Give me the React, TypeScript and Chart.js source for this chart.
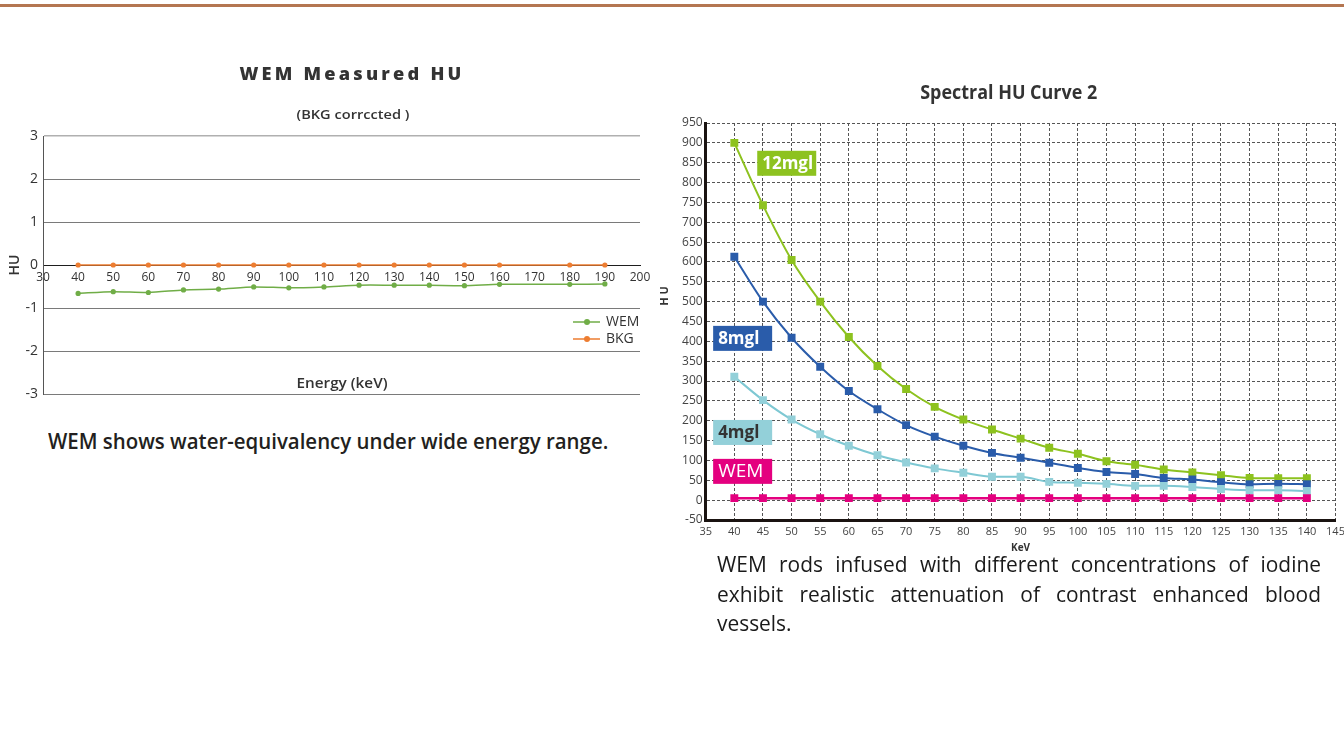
import React, { useEffect, useLayoutEffect, useRef, useState } from 'react';
import { Chart, registerables } from 'chart.js';

Chart.register(...registerables);

const SANS = "'Open Sans', 'Noto Sans', sans-serif";
const INK = '#333333';

// ---------- Left chart: WEM Measured HU (BKG corrected) ----------
const energyKeV = [40, 50, 60, 70, 80, 90, 100, 110, 120, 130, 140, 150, 160, 180, 190];
const wemHU = [-0.66, -0.62, -0.64, -0.58, -0.56, -0.51, -0.53, -0.51, -0.47, -0.47, -0.47, -0.48, -0.45, -0.45, -0.44];
const bkgHU = [0, 0, 0, 0, 0, 0, 0, 0, 0, 0, 0, 0, 0, 0, 0];
const leftSeriesNames = ['WEM', 'BKG'];
const leftTitle = 'WEM Measured HU';
const leftSubtitle = '(BKG corrccted )';
const leftXTitle = 'Energy (keV)';
const leftYTitle = 'HU';
const leftCaption = 'WEM shows water-equivalency under wide energy range.';

// ---------- Right chart: Spectral HU Curve 2 ----------
const spectralKeV = [40, 45, 50, 55, 60, 65, 70, 75, 80, 85, 90, 95, 100, 105, 110, 115, 120, 125, 130, 135, 140];
const iodine12HU = [900, 743, 605, 500, 411, 338, 280, 235, 203, 178, 155, 132, 117, 98, 89, 77, 70, 63, 56, 55, 55];
const iodine8HU = [613, 500, 409, 336, 275, 229, 189, 160, 137, 119, 107, 94, 81, 71, 66, 56, 52, 45, 40, 41, 40];
const iodine4HU = [311, 252, 203, 166, 137, 113, 95, 80, 69, 59, 59, 46, 44, 41, 36, 36, 33, 28, 25, 25, 23];
const wemSpectralHU = [5, 5, 5, 5, 5, 5, 5, 5, 5, 5, 5, 5, 5, 5, 5, 5, 5, 5, 5, 5, 5];
const rightSeriesNames = ['12mgl', '8mgl', '4mgl', 'WEM'];
const rightTitle = 'Spectral HU Curve 2';
const rightXTitle = 'KeV';
const rightYTitle = 'H U';
const rightCaptionLines = [
  'WEM rods infused with different concentrations of iodine',
  'exhibit realistic attenuation of contrast enhanced blood',
  'vessels.',
];

type TextItem = {
  text: string;
  x: number;
  y: number;
  font: string;
  color?: string;
  align?: CanvasTextAlign;
  rotate?: number;
  fitWidth?: number;
  spacing?: number;
};

function textPlugin(id: string, items: (chart: any) => TextItem[]) {
  return {
    id,
    afterDraw(chart: any) {
      const ctx = chart.ctx as CanvasRenderingContext2D;
      items(chart).forEach((it) => {
        ctx.save();
        ctx.font = it.font;
        ctx.fillStyle = it.color || INK;
        ctx.textBaseline = 'middle';
        ctx.textAlign = it.align || 'center';
        (ctx as any).letterSpacing = (it.spacing || 0) + 'px';
        ctx.translate(it.x, it.y);
        if (it.rotate) ctx.rotate(it.rotate);
        if (it.fitWidth) {
          const w = ctx.measureText(it.text).width;
          if (w > 0) ctx.scale(it.fitWidth / w, 1);
        }
        ctx.fillText(it.text, 0, 0);
        ctx.restore();
      });
    },
  };
}

const leftLegendPlugin = {
  id: 'leftLegend',
  afterDraw(chart: any) {
    const { ctx, chartArea } = chart;
    chart.data.datasets.forEach((ds: any, i: number) => {
      const y = chartArea.top + 186 + i * 17;
      const x0 = chartArea.right - 67;
      ctx.save();
      ctx.strokeStyle = ds.borderColor;
      ctx.fillStyle = ds.borderColor;
      ctx.lineWidth = 1.5;
      ctx.beginPath();
      ctx.moveTo(x0, y);
      ctx.lineTo(x0 + 27, y);
      ctx.stroke();
      ctx.beginPath();
      ctx.arc(x0 + 14, y, 3, 0, Math.PI * 2);
      ctx.fill();
      ctx.fillStyle = INK;
      ctx.font = `14px ${SANS}`;
      ctx.textAlign = 'left';
      ctx.textBaseline = 'middle';
      ctx.fillText(ds.label, x0 + 33, y);
      ctx.restore();
    });
  },
};

const curveTags = [
  { name: '12mgl', x: 44, y: 880, bg: '#8dc21f', fg: '#ffffff', weight: 700, size: 17 },
  { name: '8mgl', x: 36.3, y: 439, bg: '#2a5caa', fg: '#ffffff', weight: 700, size: 17 },
  { name: '4mgl', x: 36.3, y: 202, bg: '#93d0d9', fg: '#333333', weight: 700, size: 17 },
  { name: 'WEM', x: 36.3, y: 104, bg: '#e4007f', fg: '#ffffff', weight: 400, size: 19 },
];

const curveTagPlugin = {
  id: 'curveTags',
  afterDraw(chart: any) {
    const { ctx, scales } = chart;
    curveTags.forEach((t) => {
      const px = scales.x.getPixelForValue(t.x);
      const py = scales.y.getPixelForValue(t.y);
      ctx.save();
      ctx.fillStyle = t.bg;
      ctx.fillRect(px, py, 59, 25);
      ctx.fillStyle = t.fg;
      ctx.font = `${t.weight} ${t.size}px ${SANS}`;
      ctx.textAlign = 'left';
      ctx.textBaseline = 'middle';
      ctx.fillText(t.name, px + 5, py + 13);
      ctx.restore();
    });
  },
};

function LeftChart() {
  const ref = useRef<HTMLCanvasElement>(null);
  useEffect(() => {
    const canvas = ref.current;
    if (!canvas) return;
    const chart = new Chart(canvas, {
      type: 'line',
      data: {
        datasets: [
          {
            label: leftSeriesNames[0],
            data: energyKeV.map((x, i) => ({ x, y: wemHU[i] })),
            borderColor: '#70ad47',
            backgroundColor: '#70ad47',
            borderWidth: 1.5,
            pointRadius: 2.6,
            pointBorderWidth: 0,
            tension: 0.25,
          },
          {
            label: leftSeriesNames[1],
            data: energyKeV.map((x, i) => ({ x, y: bkgHU[i] })),
            borderColor: '#ed7d31',
            backgroundColor: '#ed7d31',
            borderWidth: 1.5,
            pointRadius: 2.6,
            pointBorderWidth: 0,
          },
        ],
      },
      options: {
        animation: false,
        responsive: true,
        maintainAspectRatio: false,
        layout: { padding: { top: 96, bottom: 26, left: 0, right: 20 } },
        plugins: { legend: { display: false }, tooltip: { enabled: false }, title: { display: false } },
        scales: {
          x: {
            type: 'linear',
            min: 30,
            max: 200,
            position: { y: 0 },
            ticks: { stepSize: 10, autoSkip: false, maxRotation: 0, color: INK, padding: 5, font: { family: SANS, size: 12 } },
            grid: { drawOnChartArea: false, drawTicks: false },
            border: { display: true, color: '#1e1e1e', width: 1 },
            afterFit: (s: any) => {
              s.height = 0;
              s.paddingLeft = 0;
              s.paddingRight = 0;
            },
          },
          y: {
            type: 'linear',
            min: -3,
            max: 3,
            ticks: { stepSize: 1, color: INK, padding: 5, font: { family: SANS, size: 14 } },
            grid: {
              drawTicks: false,
              color: (c: any) => (c.tick.value === 0 ? '#1e1e1e' : c.tick.value === 3 ? '#b0b0b0' : '#7a7a7a'),
              lineWidth: (c: any) => (c.tick.value === 3 ? 1.5 : 1),
            },
            border: { display: true, color: '#555555', width: 1 },
            afterFit: (s: any) => {
              s.width = 43;
              s.paddingTop = 0;
              s.paddingBottom = 0;
            },
          },
        },
      } as any,
      plugins: [
        leftLegendPlugin,
        textPlugin('leftTexts', (c) => {
          const a = c.chartArea;
          return [
            { text: leftTitle, x: a.left + 309, y: a.top - 61, font: `800 17px ${SANS}`, spacing: 3, fitWidth: 225 },
            { text: leftSubtitle, x: a.left + 310, y: a.top - 21, font: `600 13px ${SANS}`, fitWidth: 113 },
            { text: leftXTitle, x: a.left + 299, y: a.bottom - 10, font: `600 14px ${SANS}`, fitWidth: 91 },
            { text: leftYTitle, x: 15, y: (a.top + a.bottom) / 2, font: `600 14px ${SANS}`, rotate: -Math.PI / 2 },
          ];
        }),
      ],
    });
    return () => chart.destroy();
  }, []);
  return <canvas ref={ref} />;
}

function RightChart() {
  const ref = useRef<HTMLCanvasElement>(null);
  useEffect(() => {
    const canvas = ref.current;
    if (!canvas) return;
    const mk = (label: string, values: number[], color: string, line: string, width: number) => ({
      label,
      data: spectralKeV.map((x, i) => ({ x, y: values[i] })),
      borderColor: line,
      backgroundColor: color,
      pointBackgroundColor: color,
      borderWidth: width,
      pointRadius: 5.6,
      pointBorderWidth: 0,
      pointStyle: 'rect',
      cubicInterpolationMode: 'monotone',
    });
    const chart = new Chart(canvas, {
      type: 'line',
      data: {
        datasets: [
          mk(rightSeriesNames[3], wemSpectralHU, '#e4007f', '#e4007f', 2.5),
          mk(rightSeriesNames[2], iodine4HU, '#93d0d9', '#7ec8d3', 2),
          mk(rightSeriesNames[1], iodine8HU, '#2a5caa', '#2a5caa', 2),
          mk(rightSeriesNames[0], iodine12HU, '#8dc21f', '#8dc21f', 2),
        ] as any,
      },
      options: {
        animation: false,
        responsive: true,
        maintainAspectRatio: false,
        layout: { padding: { top: 53, bottom: 0, left: 0, right: 8.5 } },
        plugins: { legend: { display: false }, tooltip: { enabled: false }, title: { display: false } },
        scales: {
          x: {
            type: 'linear',
            min: 35,
            max: 145,
            ticks: { stepSize: 5, autoSkip: false, maxRotation: 0, color: '#444444', padding: 5, font: { family: SANS, size: 11 } },
            grid: { color: '#555555', lineWidth: 1, drawTicks: false },
            border: { display: true, color: '#1a1311', width: 3, dash: [3, 2] },
            afterFit: (s: any) => {
              s.height = 40;
              s.paddingLeft = 0;
              s.paddingRight = 0;
            },
          },
          y: {
            type: 'linear',
            min: -50,
            max: 950,
            ticks: { stepSize: 50, color: '#444444', padding: 3, font: { family: SANS, size: 12 } },
            grid: { color: '#555555', lineWidth: 1, drawTicks: false },
            border: { display: true, color: '#1a1311', width: 3, dash: [3, 2] },
            afterFit: (s: any) => {
              s.width = 55.7;
              s.paddingTop = 0;
              s.paddingBottom = 0;
            },
          },
        },
      } as any,
      plugins: [
        curveTagPlugin,
        textPlugin('rightTexts', (c) => {
          const a = c.chartArea;
          return [
            { text: rightTitle, x: a.left + 303, y: a.top - 29, font: `700 19px ${SANS}`, fitWidth: 177 },
            { text: rightXTitle, x: (a.left + a.right) / 2, y: a.bottom + 28, font: `700 10px ${SANS}` },
            { text: rightYTitle, x: a.left - 41, y: a.top + 173, font: `700 11px ${SANS}`, rotate: -Math.PI / 2 },
          ];
        }),
      ],
    });
    return () => chart.destroy();
  }, []);
  return <canvas ref={ref} />;
}

function FitLine({ text, width, style }: { text: string; width: number; style: React.CSSProperties }) {
  const ref = useRef<HTMLSpanElement>(null);
  const [scale, setScale] = useState(1);
  useLayoutEffect(() => {
    const el = ref.current;
    if (!el) return;
    const w = el.offsetWidth;
    if (w > 0) setScale(width / w);
  }, [text, width]);
  return (
    <span
      ref={ref}
      style={{ ...style, display: 'inline-block', whiteSpace: 'nowrap', transform: `scaleX(${scale})`, transformOrigin: '0 0' }}
    >
      {text}
    </span>
  );
}

export default function App() {
  const glyphScale = 0.95;
  return (
    <div
      style={{
        position: 'fixed',
        left: 0,
        top: 0,
        width: 1344,
        height: 742,
        background: '#ffffff',
        overflow: 'hidden',
        fontFamily: SANS,
      }}
    >
      <div style={{ position: 'absolute', left: 0, top: 4, width: 1344, height: 3, background: '#b47651' }} />
      <div style={{ position: 'absolute', left: 0, top: 40, width: 660, height: 380 }}>
        <LeftChart />
      </div>
      <div style={{ position: 'absolute', left: 48, top: 427 }}>
        <FitLine text={leftCaption} width={560} style={{ fontSize: 21, fontWeight: 600, lineHeight: '28px', color: '#231f20' }} />
      </div>
      <div style={{ position: 'absolute', left: 650, top: 70, width: 694, height: 490 }}>
        <RightChart />
      </div>
      <div
        style={{
          position: 'absolute',
          left: 717,
          top: 549,
          width: 604 / glyphScale,
          transform: `scaleX(${glyphScale})`,
          transformOrigin: '0 0',
          fontSize: 22,
          lineHeight: '29.5px',
          color: '#1a1a1a',
        }}
      >
        {rightCaptionLines.map((line, i) => {
          const last = i === rightCaptionLines.length - 1;
          return (
            <div
              key={i}
              style={{ whiteSpace: 'nowrap', textAlign: last ? 'left' : 'justify', textAlignLast: last ? 'left' : 'justify' } as any}
            >
              {line}
            </div>
          );
        })}
      </div>
    </div>
  );
}
